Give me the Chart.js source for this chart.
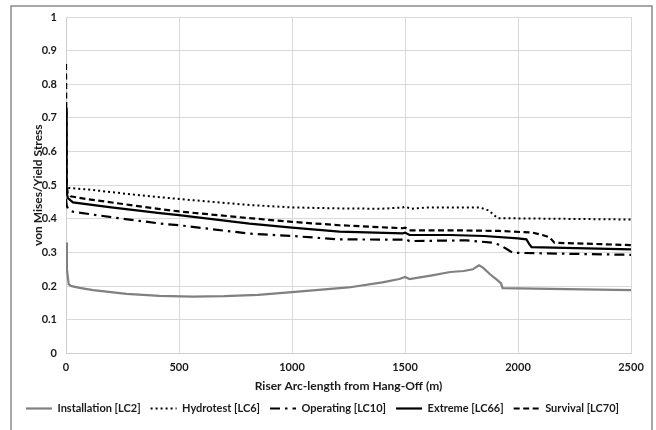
<!DOCTYPE html>
<html><head><meta charset="utf-8">
<script src="https://cdn.jsdelivr.net/npm/chart.js@4"></script>
<style>html,body{margin:0;padding:0;background:#fff}#wrap{width:656px;height:430px;position:relative}</style>
</head><body><div id="wrap"><canvas id="c" width="656" height="430"></canvas></div>
<script>
const seriesNames = ['Installation [LC2]', 'Hydrotest [LC6]', 'Operating [LC10]', 'Extreme [LC66]', 'Survival [LC70]'];
const xTickValues = [0, 500, 1000, 1500, 2000, 2500];
const yTickLabels = ['0', '0.1', '0.2', '0.3', '0.4', '0.5', '0.6', '0.7', '0.8', '0.9', '1'];

const installationX = [0, 4, 12, 25, 60, 120, 267, 414, 560, 700, 850, 1000, 1250, 1400, 1475, 1500, 1520, 1620, 1700, 1760, 1800, 1827, 1845, 1875, 1910, 1925, 1932, 2500];
const installationY = [0.33, 0.25, 0.205, 0.2, 0.195, 0.188, 0.177, 0.171, 0.169, 0.170, 0.174, 0.182, 0.196, 0.211, 0.221, 0.227, 0.221, 0.232, 0.242, 0.245, 0.25, 0.262, 0.255, 0.236, 0.217, 0.208, 0.194, 0.188];

const hydrotestX = [0, 3, 10, 100, 300, 500, 812, 1000, 1210, 1400, 1490, 1500, 1528, 1600, 1830, 1870, 1910, 2500];
const hydrotestY = [0.52, 0.498, 0.492, 0.487, 0.472, 0.459, 0.441, 0.434, 0.431, 0.43, 0.434, 0.436, 0.43, 0.434, 0.434, 0.425, 0.402, 0.398];

const operatingX = [0, 3, 10, 31, 200, 416, 500, 812, 1000, 1210, 1490, 1500, 1520, 1771, 1888, 1920, 1948, 1977, 2500];
const operatingY = [0.46, 0.44, 0.428, 0.421, 0.405, 0.386, 0.381, 0.356, 0.349, 0.339, 0.338, 0.34, 0.334, 0.336, 0.329, 0.322, 0.311, 0.299, 0.293];

const extremeX = [0, 3, 8, 20, 31, 200, 416, 500, 812, 1000, 1210, 1490, 1500, 1520, 1700, 1850, 2000, 2037, 2050, 2060, 2500];
const extremeY = [0.73, 0.48, 0.462, 0.455, 0.449, 0.434, 0.417, 0.411, 0.386, 0.374, 0.362, 0.357, 0.359, 0.352, 0.352, 0.349, 0.342, 0.339, 0.325, 0.316, 0.309];

const survivalX = [0, 3, 8, 20, 100, 416, 500, 812, 1000, 1210, 1490, 1500, 1520, 1700, 1918, 2065, 2108, 2140, 2161, 2500];
const survivalY = [0.86, 0.5, 0.475, 0.467, 0.458, 0.429, 0.422, 0.402, 0.391, 0.381, 0.372, 0.374, 0.366, 0.366, 0.364, 0.359, 0.352, 0.345, 0.329, 0.322];

const pts = (xs, ys) => xs.map((x, i) => ({x: x, y: ys[i]}));
const FONT = 'Lato';
const TXT = '#1a1a1a';

const frame = {
  id: 'frame',
  afterDraw(chart) {
    const ctx = chart.ctx;
    ctx.save();
    ctx.strokeStyle = '#8a8a8a';
    ctx.lineWidth = 1.5;
    ctx.strokeRect(11, 6, 641, 440);
    ctx.restore();
  }
};

new Chart(document.getElementById('c'), {
  type: 'line',
  data: {
    datasets: [
      {label: seriesNames[0], data: pts(installationX, installationY), borderColor: '#808080', borderWidth: 2.2},
      {label: seriesNames[1], data: pts(hydrotestX, hydrotestY), borderColor: '#000', borderWidth: 2, borderDash: [2, 3]},
      {label: seriesNames[2], data: pts(operatingX, operatingY), borderColor: '#000', borderWidth: 2.2, borderDash: [10, 5, 2.5, 5]},
      {label: seriesNames[3], data: pts(extremeX, extremeY), borderColor: '#000', borderWidth: 2.2},
      {label: seriesNames[4], data: pts(survivalX, survivalY), borderColor: '#000', borderWidth: 2.2, borderDash: [6, 3.5]}
    ].map(d => Object.assign({pointRadius: 0, tension: 0, fill: false, backgroundColor: d.borderColor}, d))
  },
  options: {
    responsive: false,
    animation: false,
    devicePixelRatio: 1,
    layout: {padding: {left: 14, right: 25, top: 17, bottom: 6}},
    plugins: {
      legend: {
        position: 'bottom',
        labels: {
          usePointStyle: true, pointStyle: 'line', pointStyleWidth: 26,
          padding: 10, color: TXT,
          font: {family: FONT, size: 11, weight: 'bold'},
          generateLabels: chart => {
            const items = Chart.defaults.plugins.legend.labels.generateLabels(chart);
            items.forEach(it => {
              const ds = chart.data.datasets[it.datasetIndex];
              it.lineDash = ds.borderDash || [];
              it.lineWidth = ds.borderWidth;
              it.strokeStyle = ds.borderColor;
              it.fillStyle = ds.borderColor;
              it.pointStyle = 'line';
              it.lineCap = 'butt';
            });
            return items;
          }
        }
      },
      tooltip: {enabled: false}
    },
    scales: {
      x: {
        type: 'linear', min: 0, max: 2500,
        afterBuildTicks: s => { s.ticks = xTickValues.map(v => ({value: v})); },
        afterFit: s => { s.height -= 4; },
        ticks: {color: TXT, font: {family: FONT, size: 11, weight: 'bold'}, padding: 7, maxRotation: 0, callback: v => String(v)},
        grid: {color: '#d9d9d9', lineWidth: 1, drawTicks: false},
        border: {color: '#d0d0d0'},
        title: {display: true, text: 'Riser Arc-length from Hang-Off (m)', color: TXT, font: {family: FONT, size: 12, weight: 'bold'}, padding: {top: 2, bottom: 0}}
      },
      y: {
        min: 0, max: 1,
        afterBuildTicks: s => { s.ticks = yTickLabels.map(v => ({value: parseFloat(v)})); },
        afterFit: s => { s.width = 52; },
        ticks: {color: TXT, font: {family: FONT, size: 11, weight: 'bold'}, padding: 9, callback: (v, i) => yTickLabels[i]},
        grid: {color: '#d9d9d9', lineWidth: 1, drawTicks: false},
        border: {color: '#d0d0d0'},
        title: {display: true, text: 'von Mises/Yield Stress', color: TXT, font: {family: FONT, size: 12, weight: 'bold'}, padding: {top: 17, bottom: 0}}
      }
    }
  },
  plugins: [frame]
});
</script></body></html>
